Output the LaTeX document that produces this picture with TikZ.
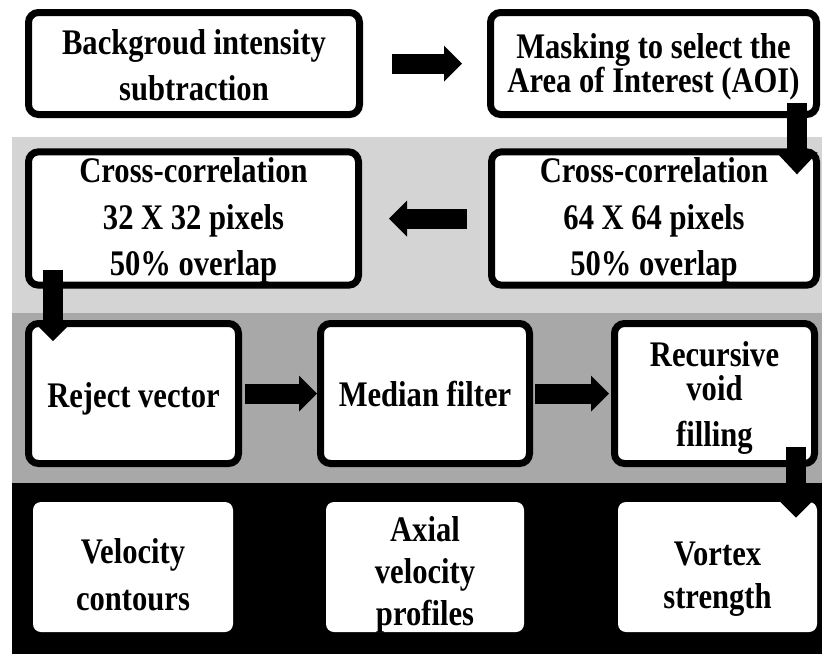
\documentclass[tikz,border=0pt]{standalone}
\usepackage{fontspec}
\setmainfont[FakeStretch=0.85]{Liberation Serif}
\usetikzlibrary{arrows.meta,shadows}
\definecolor{bandA}{HTML}{D4D4D4}
\definecolor{bandB}{HTML}{A8A8A8}
\newcommand\lowtext[2]{\raisebox{-#1}[\height][\depth]{\begin{tabular}{@{}c@{}}#2\end{tabular}}}
\tikzset{
  txt/.style={align=center, font=\fontsize{27}{30}\selectfont\bfseries, inner sep=0pt},
  stepbox/.style={txt, draw=black, line width=5.25pt, fill=white, rounded corners=7.5pt,
    drop shadow={shadow xshift=1.5pt, shadow yshift=-2.5pt, opacity=0.35}},
  outbox/.style={txt, fill=white, rounded corners=6pt},
  blk/.style={line width=15pt, -{Triangle[width=27pt,length=13.5pt,line width=0pt 0 0]}},
  blkbig/.style={line width=14.5pt, -{Triangle[width=31pt,length=16.5pt,line width=0pt 0 0]}}
}
\begin{document}
\begin{tikzpicture}[x=0.75pt,y=-0.75pt]
\useasboundingbox (0,0) rectangle (822,654);
% bands
\fill[white] (0,0) rectangle (822,654);
\fill[bandA] (12,137) rectangle (822,313);
\fill[bandB] (12,313) rectangle (822,483);
\fill[black] (12,483) rectangle (822,654);
% row 1
\node[stepbox, minimum width=248.25pt, minimum height=76.5pt] (B1) at (194,63.5)
  {\lowtext{4.5pt}{Backgroud intensity\\[5pt]subtraction}};
\node[stepbox, minimum width=244.5pt, minimum height=76.5pt] (B2) at (653.5,63.5)
  {\lowtext{3pt}{Masking to select the\\[-4pt]Area of Interest (AOI)}};
% row 2
\node[stepbox, minimum width=247.5pt, minimum height=99pt] (B3) at (193.5,218.5)
  {\lowtext{2pt}{Cross-correlation\\[5pt]32 X 32 pixels\\[5pt]50\% overlap}};
\node[stepbox, minimum width=243.75pt, minimum height=99pt] (B4) at (654,218.5)
  {\lowtext{2pt}{Cross-correlation\\[5pt]64 X 64 pixels\\[5pt]50\% overlap}};
% row 3
\node[stepbox, minimum width=157.5pt, minimum height=105pt] (B5) at (133.5,393.5)
  {\lowtext{4.5pt}{Reject vector}};
\node[stepbox, minimum width=156.75pt, minimum height=105pt] (B6) at (425,393.5)
  {Median filter};
\node[stepbox, minimum width=150pt, minimum height=105pt] (B7) at (714.5,393.5)
  {\lowtext{3.5pt}{Recursive\\[-4pt]void\\[4pt]filling}};
% row 4
\node[outbox, minimum width=150pt, minimum height=97.5pt] (W1) at (133,567)
  {\lowtext{9pt}{Velocity\\[5pt]contours}};
\node[outbox, minimum width=148.5pt, minimum height=97.5pt] (W2) at (425,567)
  {\lowtext{6pt}{Axial\\[1.5pt]velocity\\[1.5pt]profiles}};
\node[outbox, minimum width=149.25pt, minimum height=97.5pt] (W3) at (717.5,567)
  {\lowtext{9pt}{Vortex\\[2pt]strength}};
% guide coordinates for vertical arrows
\coordinate (cR) at (797,0);
\coordinate (cL) at (53,0);
\coordinate (cR2) at (796,0);
% arrows
\draw[blk, shorten <=21.75pt, shorten >=18.75pt] (B1.east) -- (B2.west);
\draw[blkbig, shorten <=-11.25pt, shorten >=-19.5pt] (B2.south -| cR) -- (B4.north -| cR);
\draw[blk, shorten <=15.75pt, shorten >=20.25pt] (B4.west) -- (B3.east);
\draw[blk, shorten <=-14.25pt, shorten >=-15.75pt] (B3.south -| cL) -- (B5.north -| cL);
\draw[blk, shorten <=2pt, shorten >=0pt] (B5.east) -- (B6.west);
\draw[blk, shorten <=1.5pt, shorten >=1.5pt] (B6.east) -- (B7.west);
\draw[blk, shorten <=-15pt, shorten >=-12pt] (B7.south -| cR2) -- (W3.north -| cR2);
\end{tikzpicture}
\end{document}
